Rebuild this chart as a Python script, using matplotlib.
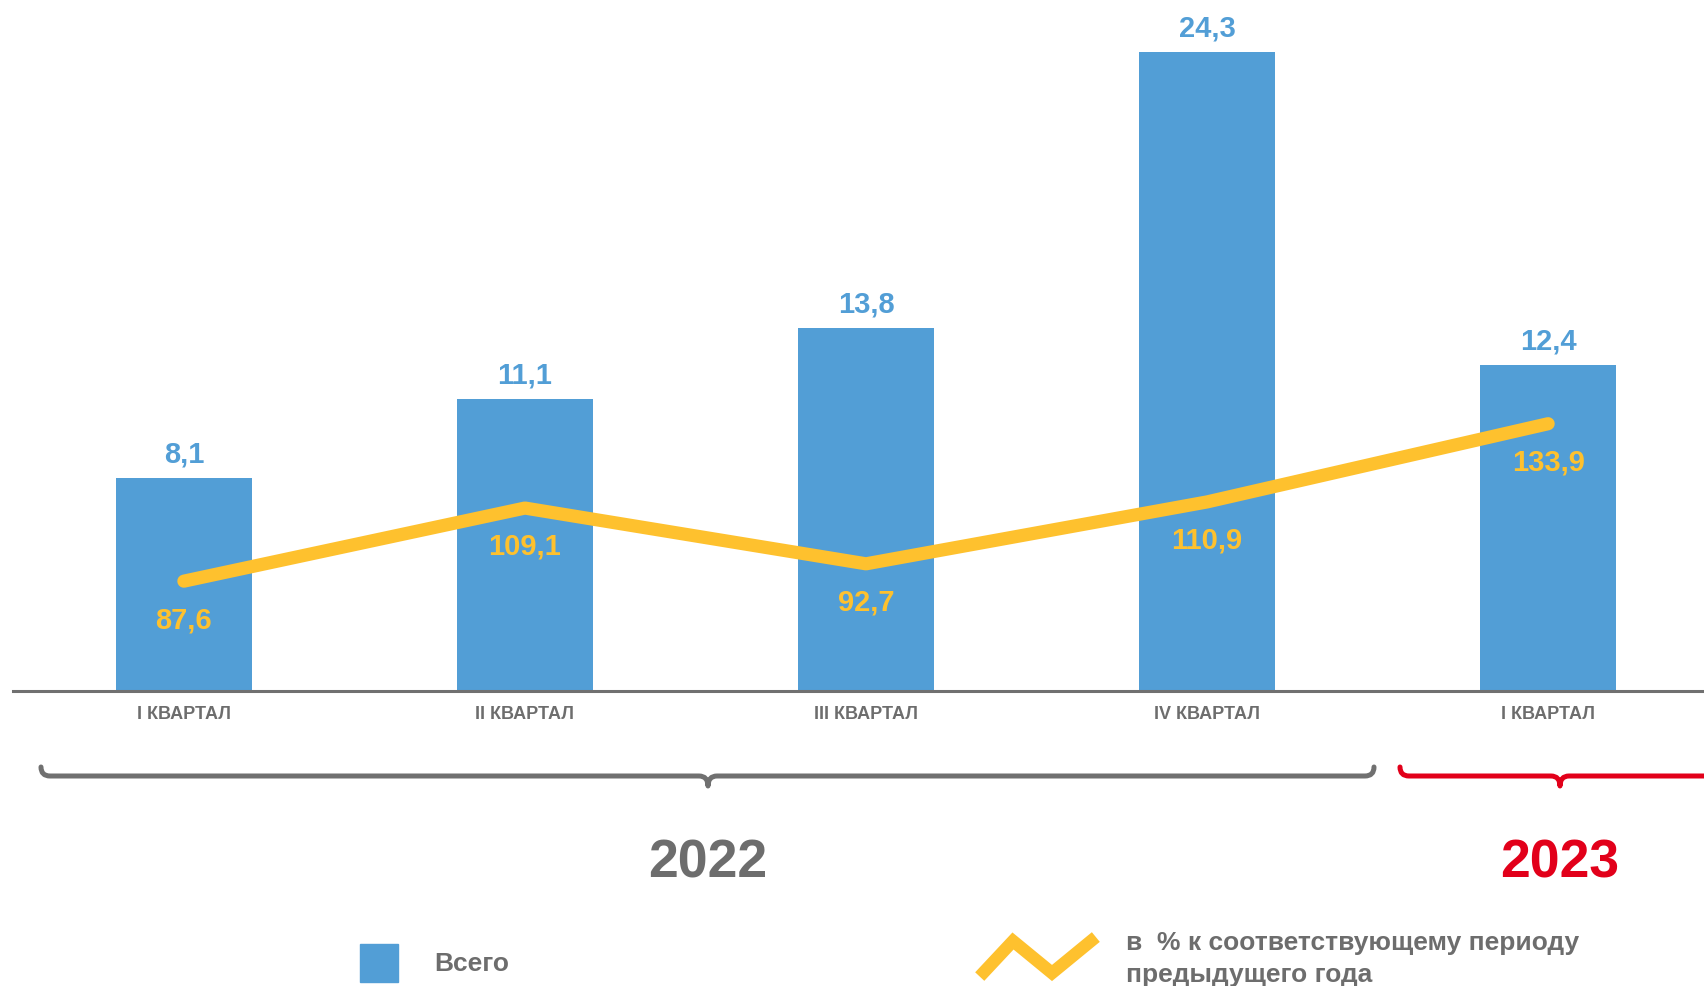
import numpy as np
import matplotlib.pyplot as plt
from matplotlib.path import Path
from matplotlib.patches import PathPatch, Rectangle

plt.rcParams['font.family'] = ['Liberation Sans', 'DejaVu Sans']
plt.rcParams['font.weight'] = 'bold'

# Данные
kvartaly = ["I КВАРТАЛ", "II КВАРТАЛ", "III КВАРТАЛ", "IV КВАРТАЛ", "I КВАРТАЛ"]
vsego = [8.1, 11.1, 13.8, 24.3, 12.4]
procent = [87.6, 109.1, 92.7, 110.9, 133.9]
gody = ["2022", "2023"]

BLUE = '#529ED6'
YELLOW = '#FEC12E'
GRAY = '#6D6D6D'
RED = '#E2001A'

W, H = 1704, 986
fig = plt.figure(figsize=(W / 100, H / 100), dpi=100)

ax = fig.add_axes([13 / W, 1 - 691 / H, 1 - 13 / W, 691 / H])
x = np.arange(len(vsego))
ax.bar(x, vsego, width=0.4, color=BLUE, zorder=2)
ax.set_xlim(-0.501, 4.457)
ax.set_ylim(0, 26.27)
for s in ['top', 'right', 'left']:
    ax.spines[s].set_visible(False)
ax.spines['bottom'].set_color('#707070')
ax.spines['bottom'].set_linewidth(2.2)
ax.set_yticks([])
ax.set_xticks(x)
ax.set_xticklabels(kvartaly, fontsize=13, fontweight='bold', color=GRAY)
ax.tick_params(axis='x', length=0, pad=11)

for xi, v in zip(x, vsego):
    ax.annotate(f"{v:.1f}".replace('.', ','), (xi, v), xytext=(0, 17),
                textcoords='offset points', ha='center', va='center',
                fontsize=21, fontweight='bold', color=BLUE)

# Линия на второй оси
ax2 = ax.twinx()
ax2.plot(x, procent, color=YELLOW, lw=9.5, solid_capstyle='round',
         solid_joinstyle='round', zorder=3)
ax2.set_ylim(55.3, 258.5)
ax2.axis('off')
for xi, v in zip(x, procent):
    ax2.annotate(f"{v:.1f}".replace('.', ','), (xi, v), xytext=(0, -28),
                 textcoords='offset points', ha='center', va='center',
                 fontsize=21, fontweight='bold', color=YELLOW)

# Фигурные скобки, подписи годов и легенда (в пикселях)
ov = fig.add_axes([0, 0, 1, 1], facecolor='none')
ov.set_xlim(0, W)
ov.set_ylim(H, 0)
ov.axis('off')


def skobka(x0, xm, x1, y, color):
    r = 9
    d = 10
    verts = [(x0, y - r), (x0, y), (x0 + r, y),
             (xm - r, y), (xm, y), (xm, y + d),
             (xm, y), (xm + r, y),
             (x1 - r, y), (x1, y), (x1, y - r)]
    codes = [Path.MOVETO, Path.CURVE3, Path.CURVE3,
             Path.LINETO, Path.CURVE3, Path.CURVE3,
             Path.CURVE3, Path.CURVE3,
             Path.LINETO, Path.CURVE3, Path.CURVE3]
    ov.add_patch(PathPatch(Path(verts, codes), fill=False, edgecolor=color,
                           lw=3.6, capstyle='round', joinstyle='round'))


skobka(41, 708, 1374, 776, '#707070')
skobka(1400, 1560, 1720, 776, RED)

ov.text(708, 863, gody[0], ha='center', va='center', fontsize=38.5,
        fontweight='bold', color=GRAY)
ov.text(1560, 863, gody[1], ha='center', va='center', fontsize=38.5,
        fontweight='bold', color=RED)

ov.add_patch(Rectangle((360, 944), 38, 38, color=BLUE))
ov.text(434, 964, "Всего", ha='left', va='center', fontsize=19,
        fontweight='bold', color=GRAY)

ov.plot([984, 1013, 1052, 1091], [972, 941, 973, 941], color=YELLOW, lw=9,
        solid_joinstyle='miter')
ov.text(1126, 943, "в  % к соответствующему периоду", ha='left', va='center',
        fontsize=19, fontweight='bold', color=GRAY)
ov.text(1126, 975, "предыдущего года", ha='left', va='center',
        fontsize=19, fontweight='bold', color=GRAY)

fig.savefig('out.png', dpi=100)
